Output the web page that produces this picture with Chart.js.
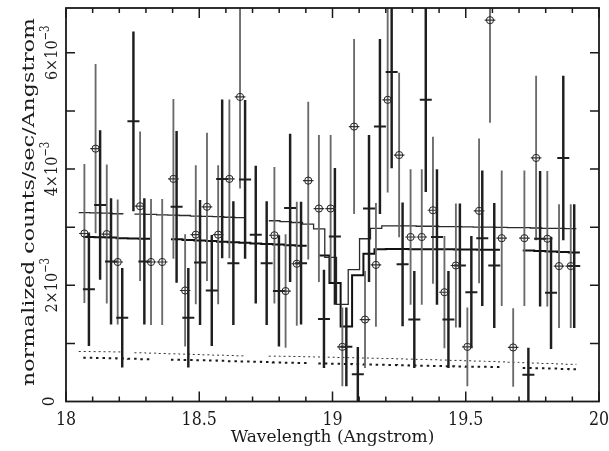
<!DOCTYPE html>
<html>
<head>
<meta charset="utf-8">
<script src="https://cdn.jsdelivr.net/npm/chart.js"></script>
<style>
  html, body { margin: 0; padding: 0; background: #fff; }
  canvas { display: block; }
</style>
</head>
<body>
<canvas id="spec" width="609" height="451"></canvas>
<script>
/* ── Data (y in units of 1e-3 counts/sec/Angstrom, null = empty bin) ── */

// first data set: open circles, thin model, dotted background
const aWave = [18.069, 18.111, 18.153, 18.194, 18.236, 18.278, 18.319, 18.361, 18.403, 18.447,
               18.487, 18.529, 18.571, 18.613, 18.653, 18.696, 18.739, 18.782, 18.824, 18.866,
               18.909, 18.949, 18.993, 19.037, 19.081, 19.122, 19.163, 19.207, 19.250, 19.293,
               19.335, 19.377, 19.420, 19.463, 19.506, 19.550, 19.591, 19.635, 19.678, 19.720,
               19.764, 19.806, 19.850, 19.894];
const aRate = [2.89, 4.35, 2.88, 2.40, null, 3.36, 2.40, 2.40, 3.83, 1.91,
               2.87, 3.35, 2.87, 3.83, 5.24, null, null, 2.86, 1.90, 2.37,
               3.80, 3.32, 3.32, 0.94, 4.73, 1.41, 2.35, 5.19, 4.24, 2.83,
               2.83, 3.29, 1.88, 2.34, 0.94, 3.28, 6.56, 2.81, 0.93, 2.81,
               4.19, 2.80, 2.33, 2.33];
const aErr  = [1.19, 1.45, 1.19, 1.07, null, 1.28, 1.08, 1.08, 1.37, 0.96,
               1.19, 1.27, 1.19, 1.36, 1.57, null, null, 1.17, 0.97, 1.06,
               1.35, 1.26, 1.26, 0.67, 1.50, 0.83, 1.06, 1.59, 1.41, 1.16,
               1.16, 1.26, 0.96, 1.06, 0.67, 1.24, 1.76, 1.16, 0.67, 1.16,
               1.41, 1.16, 1.06, 1.06];
const aModel = [3.25, 3.245, 3.24, 3.23, null, 3.225, 3.22, 3.21, 3.205, 3.20,
                3.19, 3.185, 3.18, 3.17, 3.165, null, null, 3.11, 3.095, 3.08,
                3.05, 2.97, 2.48, 1.67, 2.27, 2.80, 2.98, 3.02, 3.02, 3.02,
                3.015, 3.015, 3.01, 3.01, 3.005, 3.00, 3.00, 2.995, 2.99, 2.99,
                2.985, 2.98, 2.98, 2.975];
const aBkg = [0.860, 0.858, 0.856, 0.853, null, 0.838, 0.832, 0.826, 0.820, 0.815,
              0.809, 0.803, 0.797, 0.792, 0.786, null, null, 0.780, 0.777, 0.774,
              0.770, 0.766, 0.762, 0.757, 0.753, 0.748, 0.744, 0.739, 0.734, 0.729,
              0.724, 0.719, 0.713, 0.707, 0.701, 0.695, 0.689, 0.682, 0.675, 0.668,
              0.661, 0.654, 0.647, 0.640];

// second data set: plain crosses, thick model, dashed background
const bWave = [18.086, 18.128, 18.169, 18.211, 18.253, 18.294, 18.336, 18.378, 18.415, 18.459,
               18.503, 18.547, 18.586, 18.628, 18.672, 18.712, 18.753, 18.799, 18.841, 18.882,
               18.925, 18.968, 19.009, 19.052, 19.095, 19.137, 19.178, 19.222, 19.263, 19.307,
               19.350, 19.392, 19.435, 19.478, 19.521, 19.562, 19.607, 19.650, 19.692, 19.735,
               19.779, 19.820, 19.866, 19.907];
const bRate = [1.93, 3.38, 2.41, 1.44, 4.82, 2.41, null, null, 3.35, 1.44,
               2.39, 1.91, 3.83, 2.38, 3.82, 2.87, 2.38, 1.90, 3.33, 2.38,
               null, 1.42, 2.84, 0.94, 0.47, 3.32, 4.73, 5.67, 2.36, 1.41,
               5.19, 2.83, 1.41, 2.34, 1.88, 2.81, 2.34, null, null, 0.46,
               2.80, 1.87, 4.19, 2.33];
const bErr  = [0.97, 1.28, 1.08, 0.85, 1.54, 1.08, null, null, 1.30, 0.85,
               1.07, 0.95, 1.36, 1.06, 1.36, 1.18, 1.06, 0.95, 1.27, 1.05,
               null, 0.84, 1.17, 0.67, 0.46, 1.26, 1.50, 1.65, 1.06, 0.83,
               1.58, 1.16, 0.83, 1.06, 0.96, 1.16, 1.07, null, null, 0.46,
               1.16, 0.96, 1.41, 1.06];
const bModel = [2.83, 2.825, 2.82, 2.81, 2.805, 2.80, null, null, 2.79, 2.78,
                2.77, 2.76, 2.75, 2.74, 2.73, 2.72, 2.71, 2.70, 2.69, 2.68,
                null, 2.51, 2.04, 1.29, 2.17, 2.54, 2.62, 2.625, 2.625, 2.62,
                2.62, 2.62, 2.62, 2.615, 2.615, 2.61, 2.61, null, null, 2.60,
                2.59, 2.58, 2.57, 2.565];
const bBkg = [0.754, 0.749, 0.744, 0.739, 0.734, 0.729, null, null, 0.720, 0.715,
              0.710, 0.704, 0.699, 0.694, 0.688, 0.683, 0.678, 0.672, 0.667, 0.662,
              null, 0.652, 0.648, 0.644, 0.640, 0.636, 0.632, 0.628, 0.624, 0.620,
              0.616, 0.612, 0.608, 0.604, 0.600, 0.597, 0.594, null, null, 0.577,
              0.572, 0.566, 0.560, 0.555];

/* ── Axes ── */
const X_MIN = 18, X_MAX = 20, Y_MIN = 0, Y_MAX = 6.77;
const X_MAJOR = [18, 18.5, 19, 19.5, 20];
const X_MINOR = [18.1, 18.2, 18.3, 18.4, 18.6, 18.7, 18.8, 18.9,
                 19.1, 19.2, 19.3, 19.4, 19.6, 19.7, 19.8, 19.9];
const X_LABELS = ['18', '18.5', '19', '19.5', '20'];
const Y_TICKS  = [1, 2, 3, 4, 5, 6];
const Y_LABELED = [0, 2, 4, 6];
const X_TITLE = 'Wavelength (Angstrom)';
const Y_TITLE = 'normalized counts/sec/Angstrom';

const HALF_BIN = 0.0212;
const INK  = '#1a1a1a';
const FONT = '"DejaVu Serif", serif';

/* ── Helpers that turn the arrays into Chart.js data ── */
const points = (xs, vs) =>
  xs.map((x, i) => vs[i] == null ? null : { x, y: vs[i] }).filter(Boolean);

const errBars = (xs, vs, es) =>
  xs.map((x, i) => vs[i] == null ? null : { x, y: [vs[i] - es[i], vs[i] + es[i]] }).filter(Boolean);

// histogram steps: one flat piece per bin, broken where a bin is empty
function steps(xs, vs) {
  const out = [];
  for (let i = 0; i < xs.length; i++) {
    if (vs[i] == null) { out.push({ x: xs[i], y: null }); continue; }
    const prev = i > 0 && vs[i - 1] != null;
    const next = i < xs.length - 1 && vs[i + 1] != null;
    const l = prev ? (xs[i - 1] + xs[i]) / 2 : xs[i] - HALF_BIN;
    const r = next ? (xs[i] + xs[i + 1]) / 2 : xs[i] + HALF_BIN;
    out.push({ x: l, y: vs[i] }, { x: r, y: vs[i] });
  }
  return out;
}

/* ── Text helpers ── */
function drawText(ctx, str, cx, cy, rot, px, sx, baseline) {
  ctx.save();
  ctx.translate(cx, cy);
  ctx.rotate(rot);
  ctx.scale(sx, 1);
  ctx.font = px + 'px ' + FONT;
  ctx.fillStyle = INK;
  ctx.textAlign = 'center';
  ctx.textBaseline = baseline || 'alphabetic';
  ctx.fillText(str, 0, 0);
  ctx.restore();
}

// "2×10^-3" drawn vertically, centred on the tick
function drawPow(ctx, mant, cx, cy) {
  const sx = 0.85;
  ctx.save();
  ctx.translate(cx, cy);
  ctx.rotate(-Math.PI / 2);
  ctx.scale(sx, 1);
  ctx.fillStyle = INK;
  ctx.textAlign = 'left';
  ctx.textBaseline = 'alphabetic';
  const main = mant + '×10', exp = '−3';
  ctx.font = '17px ' + FONT;
  const wm = ctx.measureText(main).width;
  ctx.font = '12px ' + FONT;
  const we = ctx.measureText(exp).width;
  const start = -(wm + we) / 2;
  ctx.font = '17px ' + FONT;
  ctx.fillText(main, start, 7);
  ctx.font = '12px ' + FONT;
  ctx.fillText(exp, start + wm, -1);
  ctx.restore();
}

/* ── Frame, inward ticks and labels ── */
const axesFrame = {
  id: 'axesFrame',
  afterDatasetsDraw(chart) {
    const { ctx, chartArea: a, scales: { x, y } } = chart;
    ctx.save();
    ctx.strokeStyle = INK;
    ctx.lineWidth = 1.5;
    ctx.beginPath();
    X_MAJOR.concat(X_MINOR).forEach(v => {
      const px = x.getPixelForValue(v);
      const len = X_MAJOR.includes(v) ? 10 : 5;
      ctx.moveTo(px, a.bottom); ctx.lineTo(px, a.bottom - len);
      ctx.moveTo(px, a.top);    ctx.lineTo(px, a.top + len);
    });
    Y_TICKS.forEach(v => {
      const py = y.getPixelForValue(v);
      ctx.moveTo(a.left, py);  ctx.lineTo(a.left + 9, py);
      ctx.moveTo(a.right, py); ctx.lineTo(a.right - 9, py);
    });
    ctx.stroke();
    ctx.lineWidth = 1.8;
    ctx.strokeRect(a.left, a.top, a.right - a.left, a.bottom - a.top);
    ctx.restore();
  },
  afterDraw(chart) {
    const { ctx, chartArea: a, scales: { x, y } } = chart;
    X_MAJOR.forEach((v, i) =>
      drawText(ctx, X_LABELS[i], x.getPixelForValue(v), a.bottom + 23, 0, 18, 0.88));
    drawText(ctx, X_TITLE, (a.left + a.right) / 2, 442, 0, 17, 1.0);

    Y_LABELED.forEach(v => {
      const py = y.getPixelForValue(v);
      if (v === 0) drawText(ctx, '0', 50, py, -Math.PI / 2, 17, 0.9, 'middle');
      else drawPow(ctx, String(v), 50, py);
    });
    ctx.save();
    ctx.font = '17px ' + FONT;
    const w = ctx.measureText(Y_TITLE).width;
    ctx.restore();
    drawText(ctx, Y_TITLE, 34, 202, -Math.PI / 2, 17, 368 / w);
  }
};

/* ── Chart ── */
new Chart(document.getElementById('spec'), {
  type: 'scatter',
  data: {
    datasets: [
      { type: 'line', data: steps(aWave, aBkg), borderColor: '#333', borderWidth: 1,
        borderDash: [2, 3], pointRadius: 0, order: 8 },
      { type: 'line', data: steps(bWave, bBkg), borderColor: INK, borderWidth: 2,
        borderDash: [2.5, 4], pointRadius: 0, order: 8 },
      { type: 'line', data: steps(aWave, aModel), borderColor: '#2a2a2a', borderWidth: 1.3,
        pointRadius: 0, order: 7 },
      { type: 'line', data: steps(bWave, bModel), borderColor: '#111', borderWidth: 2,
        pointRadius: 0, order: 7 },
      { type: 'bar', data: errBars(aWave, aRate, aErr), backgroundColor: '#6a6a6a',
        barThickness: 1.2, grouped: false, order: 6 },
      { type: 'bar', data: errBars(bWave, bRate, bErr), backgroundColor: '#1e1e1e',
        barThickness: 1.8, grouped: false, order: 5 },
      { data: points(bWave, bRate), pointStyle: 'line', pointRadius: 6,
        borderColor: '#1e1e1e', borderWidth: 2, order: 3 },
      { data: points(aWave, aRate), pointStyle: 'line', pointRadius: 5.3,
        borderColor: '#333', borderWidth: 1.2, order: 2 },
      { data: points(aWave, aRate), pointStyle: 'circle', pointRadius: 3.6,
        borderColor: '#222', borderWidth: 1, backgroundColor: 'rgba(0,0,0,0)', order: 1 }
    ]
  },
  options: {
    responsive: false,
    animation: false,
    devicePixelRatio: 1,
    layout: { padding: { left: 66, right: 10, top: 5, bottom: 49.5 } },
    scales: {
      x: { type: 'linear', min: X_MIN, max: X_MAX, offset: false, display: false },
      y: { type: 'linear', min: Y_MIN, max: Y_MAX, display: false }
    },
    plugins: { legend: { display: false }, tooltip: { enabled: false } },
    elements: { point: { hoverRadius: 0 } }
  },
  plugins: [axesFrame]
});
</script>
</body>
</html>
